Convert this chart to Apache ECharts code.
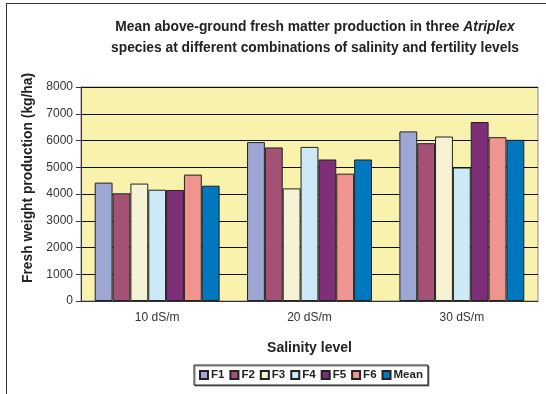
<!DOCTYPE html>
<html>
<head>
<meta charset="utf-8">
<script src="https://cdn.jsdelivr.net/npm/echarts@6/dist/echarts.min.js"></script>
<style>
html, body { margin: 0; padding: 0; background: #fff; }
#chart { width: 546px; height: 394px; }
</style>
</head>
<body>
<div id="chart"></div>
<script>
var levels = ['10 dS/m', '20 dS/m', '30 dS/m'];
var seriesNames = ['F1', 'F2', 'F3', 'F4', 'F5', 'F6', 'Mean'];
var F1 = [4425, 5940, 6340];
var F2 = [4025, 5740, 5900];
var F3 = [4390, 4210, 6150];
var F4 = [4160, 5760, 4990];
var F5 = [4150, 5290, 6690];
var F6 = [4725, 4760, 6125];
var Mean = [4310, 5290, 6025];
var values = [F1, F2, F3, F4, F5, F6, Mean];
var colors = ['#9EA6D4', '#A35276', '#F5F3D4', '#CDE9F5', '#7E2F78', '#EF9590', '#0078C0'];

var font = 'Liberation Sans, Arial, sans-serif';

chart = echarts.init(document.getElementById('chart'));

var series = seriesNames.map(function (name, i) {
    return {
        name: name,
        type: 'bar',
        data: values[i],
        barGap: '0%',
        barCategoryGap: '18%',
        itemStyle: { color: colors[i], borderColor: '#222', borderWidth: 1 }
    }
});

chart.setOption({
    animation: false,
    textStyle: { fontFamily: font },
    title: {
        text: 'Mean above-ground fresh matter production in three {i|Atriplex}\nspecies at different combinations of salinity and fertility levels',
        left: 310,
        top: 12,
        textAlign: 'center',
        textStyle: {
            fontFamily: font, fontSize: 13.8, fontWeight: 'bold', color: '#222', lineHeight: 21,
            rich: { i: { fontFamily: font, fontSize: 13.8, fontWeight: 'bold', fontStyle: 'italic', color: '#222' } }
        }
    },
    legend: {
        data: seriesNames,
        left: 194,
        top: 365,
        width: 236,
        padding: [4, 5, 4, 5],
        itemGap: 5,
        itemWidth: 8,
        itemHeight: 8,
        icon: 'rect',
        borderColor: '#222',
        borderWidth: 1,
        shadowColor: 'rgba(0,0,0,0.5)',
        shadowOffsetX: 1,
        shadowOffsetY: 1,
        backgroundColor: '#fff',
        textStyle: { fontFamily: font, fontSize: 11.5, fontWeight: 'bold', color: '#222', padding: [0, 0, 0, -2] }
    },
    grid: {
        left: 81, right: 8, top: 87, bottom: 93,
        show: true, backgroundColor: '#F9F2AC', borderColor: '#888', borderWidth: 1
    },
    xAxis: {
        type: 'category',
        data: levels,
        name: 'Salinity level',
        nameLocation: 'middle',
        nameGap: 40,
        nameTextStyle: { fontFamily: font, fontSize: 14, fontWeight: 'bold', color: '#222' },
        axisLine: { lineStyle: { color: '#333' } },
        axisTick: { length: 5, lineStyle: { color: '#333' } },
        axisLabel: { fontFamily: font, fontSize: 12, color: '#333', margin: 11 }
    },
    yAxis: {
        type: 'value',
        min: 0,
        max: 8000,
        interval: 1000,
        name: 'Fresh weight production (kg/ha)',
        nameLocation: 'middle',
        nameGap: 37,
        nameTextStyle: { fontFamily: font, fontSize: 13.8, fontWeight: 'bold', color: '#222', padding: [0, 0, 0, 32] },
        axisLine: { show: true, lineStyle: { color: '#333' } },
        axisTick: { show: true, length: 5, lineStyle: { color: '#333' } },
        axisLabel: { fontFamily: font, fontSize: 12, color: '#333', margin: 8, formatter: function (v) { return String(v) } },
        splitLine: { lineStyle: { color: '#111', width: 1 } }
    },
    graphic: [
        { type: 'line', shape: { x1: 6, y1: 3.5, x2: 546, y2: 3.5 }, style: { stroke: '#333', lineWidth: 1 } },
        { type: 'line', shape: { x1: 6.5, y1: 3, x2: 6.5, y2: 394 }, style: { stroke: '#333', lineWidth: 1 } }
    ],
    series: series
});
</script>
</body>
</html>
